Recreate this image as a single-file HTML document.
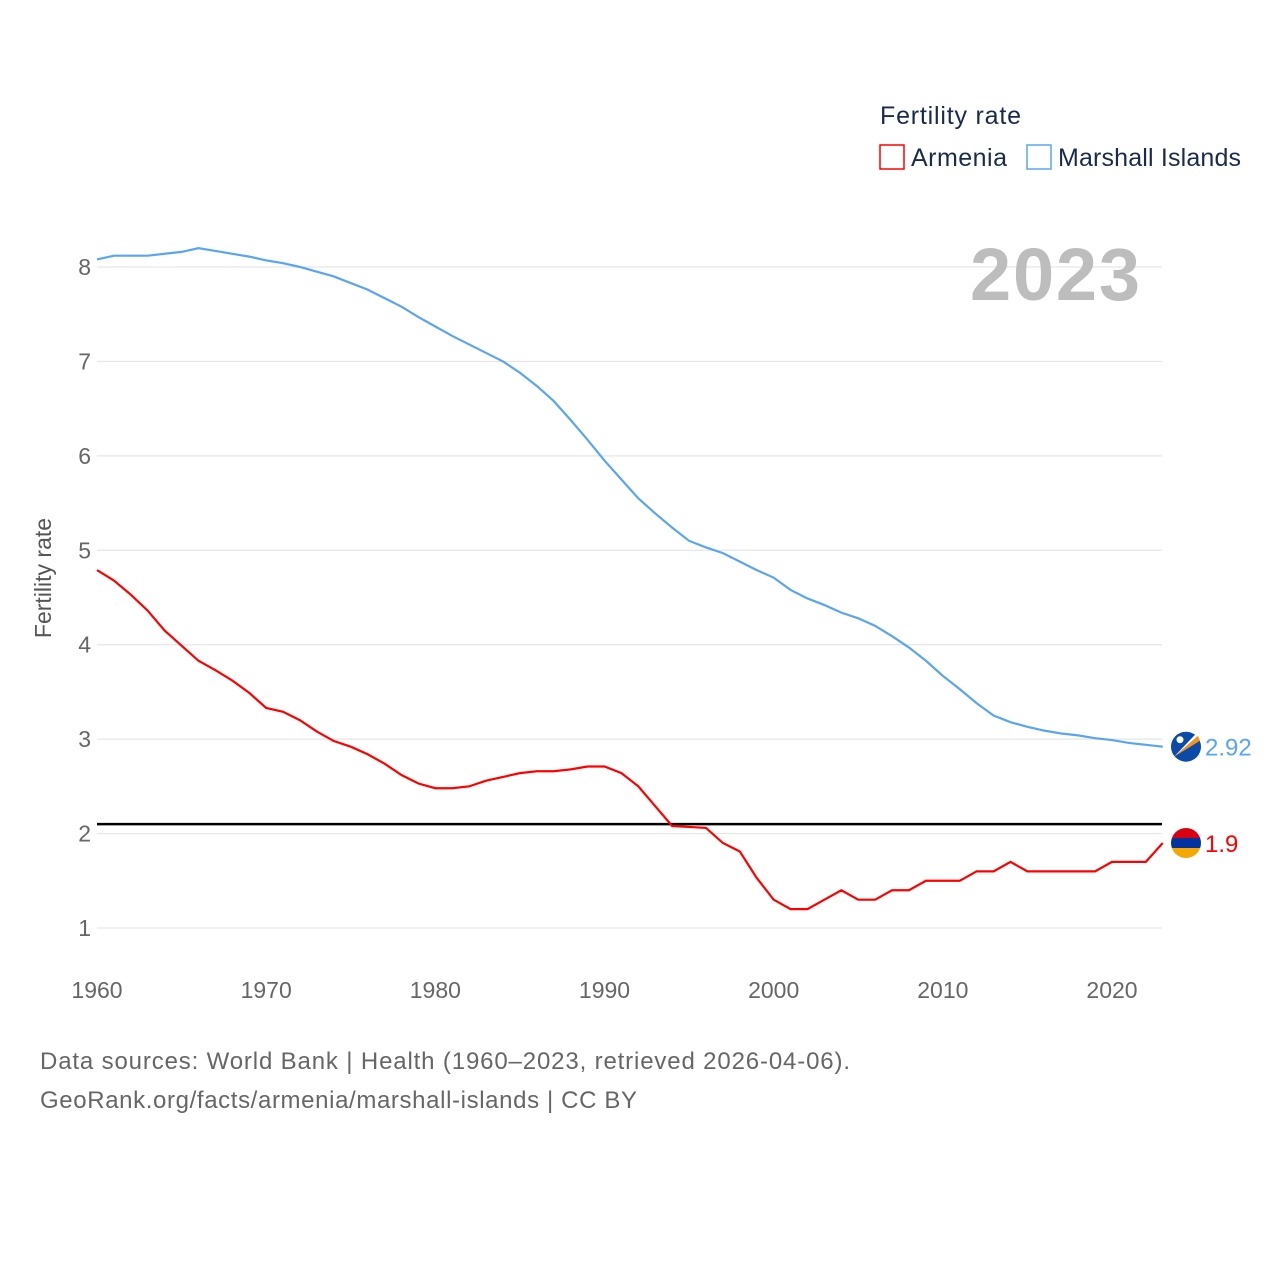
<!DOCTYPE html>
<html><head><meta charset="utf-8"><style>
body{margin:0;background:#fff;font-family:"Liberation Sans",sans-serif}
svg text{font-family:"Liberation Sans",sans-serif}
</style></head><body>
<svg id="chart" width="1280" height="1280" viewBox="0 0 1280 1280">
<rect width="1280" height="1280" fill="#fff"/>
<g id="grid"></g>
<g id="series"></g>
<text x="880" y="124" font-size="25" fill="#1a2a4a" textLength="141">Fertility rate</text>
<rect x="880" y="145" width="24" height="24" fill="none" stroke="#f00" stroke-width="1.5"/>
<text x="911" y="166" font-size="25" fill="#1a2a4a" textLength="96">Armenia</text>
<rect x="1027" y="145" width="24" height="24" fill="none" stroke="#5aa5f0" stroke-width="1.5"/>
<text x="1058" y="166" font-size="25" fill="#1a2a4a" textLength="183">Marshall Islands</text>
<text x="1140" y="300" font-size="74" font-weight="bold" fill="#bdbdbd" text-anchor="end" textLength="170">2023</text>
<text transform="translate(51,578) rotate(-90)" font-size="23" fill="#555" text-anchor="middle">Fertility rate</text>
<text x="40" y="1069" font-size="24" fill="#666" textLength="810">Data sources: World Bank | Health (1960–2023, retrieved 2026-04-06).</text>
<text x="40" y="1108" font-size="24" fill="#666" textLength="597">GeoRank.org/facts/armenia/marshall-islands | CC BY</text>
</svg>
<script>
const years=[];for(let y=1960;y<=2023;y++)years.push(y);
const marshall=[8.08,8.12,8.12,8.12,8.14,8.16,8.2,8.17,8.14,8.11,8.07,8.04,8.0,7.95,7.9,7.83,7.76,7.67,7.58,7.47,7.37,7.27,7.18,7.09,7.0,6.88,6.74,6.58,6.38,6.17,5.95,5.75,5.55,5.39,5.24,5.1,5.03,4.97,4.88,4.79,4.71,4.58,4.49,4.42,4.34,4.28,4.2,4.09,3.97,3.83,3.67,3.53,3.38,3.25,3.18,3.13,3.09,3.06,3.04,3.01,2.99,2.96,2.94,2.92];
const armenia=[4.79,4.68,4.53,4.36,4.15,3.99,3.83,3.73,3.62,3.49,3.33,3.29,3.2,3.08,2.98,2.92,2.84,2.74,2.62,2.53,2.48,2.48,2.5,2.56,2.6,2.64,2.66,2.66,2.68,2.71,2.71,2.64,2.5,2.29,2.08,2.07,2.06,1.9,1.81,1.53,1.3,1.2,1.2,1.3,1.4,1.3,1.3,1.4,1.4,1.5,1.5,1.5,1.6,1.6,1.7,1.6,1.6,1.6,1.6,1.6,1.7,1.7,1.7,1.9];
const yTicks=[1,2,3,4,5,6,7,8];
const xTicks=[1960,1970,1980,1990,2000,2010,2020];
const replacement=[2.1];
const NS="http://www.w3.org/2000/svg";
const X=y=>97+(y-1960)*(1015/60);
const Y=v=>928-(v-1)*(661/7);
function mk(tag,attrs,parent){const e=document.createElementNS(NS,tag);for(const k in attrs)e.setAttribute(k,attrs[k]);parent.appendChild(e);return e;}
const grid=document.getElementById('grid'),ser=document.getElementById('series');
yTicks.forEach(v=>{
 const l=mk('line',{x1:97,x2:1162,y1:Y(v),y2:Y(v),stroke:'#e6e6e6','stroke-width':1.2},grid);
 
 
 const t=mk('text',{x:91,y:Y(v)+8,'font-size':23,fill:'#666','text-anchor':'end'},grid);t.textContent=v;
 
 
});
xTicks.forEach(v=>{
 const t=mk('text',{x:X(v),y:998,'font-size':23,fill:'#666','text-anchor':'middle'},grid);t.textContent=v;
 
 
});
replacement.forEach(v=>{
 const l=mk('line',{x1:97,x2:1162,y1:Y(v),y2:Y(v),stroke:'#000','stroke-width':2.5},ser);
 
 
});
function line(arr,color,name){
 const p=mk('polyline',{points:arr.map((v,i)=>X(years[i])+','+Y(v)).join(' '),fill:'none',stroke:color,'stroke-width':2.2},ser);
 
 
}
line(marshall,'#5aa5f0','marshall-islands-line');
line(armenia,'#f00','armenia-line');
const cx=1186;
let my=Y(marshall[marshall.length-1]);
let g=mk('g',{},ser);


mk('circle',{cx:cx,cy:my,r:15,fill:'#0a4aa8'},g);
mk('polygon',{points:`${cx-12},${my+10} ${cx+12},${my-11} ${cx+14},${my-6}`,fill:'#f7941d'},g);
mk('polygon',{points:`${cx-12},${my+10} ${cx+10},${my-13} ${cx+12},${my-11}`,fill:'#fff'},g);
mk('circle',{cx:cx-6,cy:my-7,r:3.5,fill:'#fff'},g);
let t=mk('text',{x:1205,y:my+9,'font-size':24,fill:'#5aa5f0'},ser);t.textContent=marshall[marshall.length-1].toFixed(2);


let ay=Y(armenia[armenia.length-1]);
g=mk('g',{},ser);


mk('clipPath',{id:'ac'},g);
mk('circle',{cx:cx,cy:ay,r:15},document.getElementById('ac'));
mk('rect',{x:cx-15,y:ay-15,width:30,height:10,fill:'#d90012','clip-path':'url(#ac)'},g);
mk('rect',{x:cx-15,y:ay-5,width:30,height:10,fill:'#0033a0','clip-path':'url(#ac)'},g);
mk('rect',{x:cx-15,y:ay+5,width:30,height:10,fill:'#f2a800','clip-path':'url(#ac)'},g);
t=mk('text',{x:1205,y:ay+9,'font-size':24,fill:'#f00'},ser);t.textContent=armenia[armenia.length-1];


</script>
</body></html>
